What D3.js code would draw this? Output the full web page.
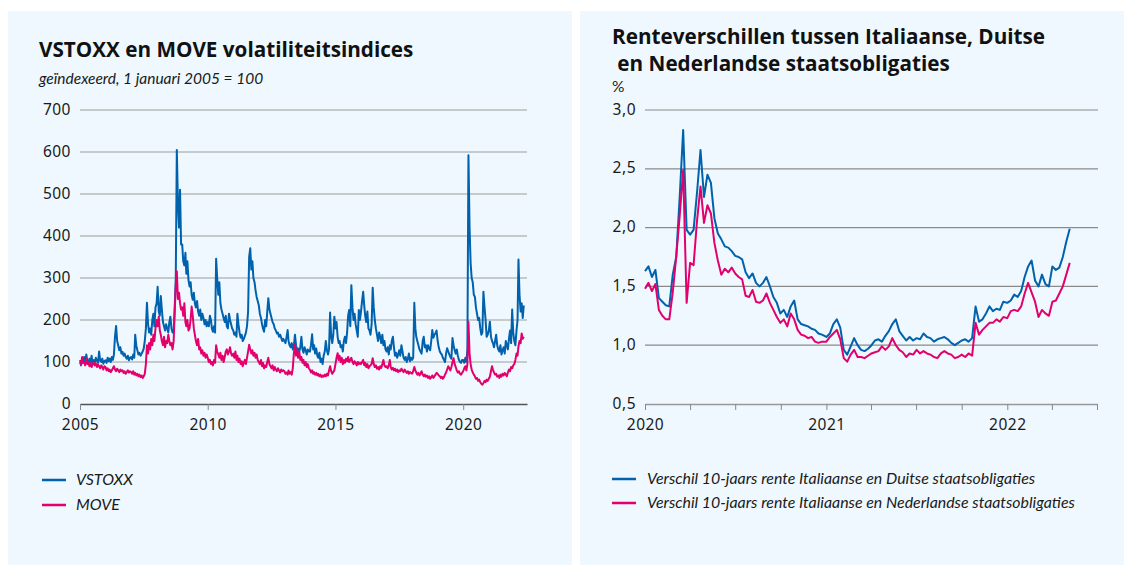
<!DOCTYPE html>
<html>
<head>
<meta charset="utf-8">
<script src="https://cdn.jsdelivr.net/npm/d3@7"></script>
<style>
  body { margin: 0; background: #fff; }
  text { font-family: Lato, "Open Sans", sans-serif; fill: #1a1a1a; }
  .title { font-family: "Open Sans", sans-serif; font-weight: 700; font-size: 20.7px; fill: #111; }
  .sub { font-style: italic; font-size: 15.5px; }
  .tick text, .ylab { font-family: "Noto Sans", sans-serif; font-size: 15.5px; letter-spacing: 0.5px; }
  .legend text { font-style: italic; font-size: 15.9px; }
</style>
</head>
<body>
<svg id="chart" width="1132" height="569"></svg>
<script>
/* DATA */
// left chart: semi-monthly readings (1st and 16th of each month), one row per year from 2005
const vstoxx = [
  100, 92, 105, 98, 112, 95, 118, 102, 96, 108, 100, 115, 94, 105, 99, 110, 103, 98, 125, 104, 100, 108, 96, 102,
  104, 98, 110, 102, 108, 100, 112, 105, 118, 160, 186, 150, 140, 128, 135, 120, 124, 115, 120, 112, 108, 115, 104, 110,
  112, 106, 118, 110, 165, 140, 128, 118, 122, 115, 120, 125, 132, 150, 180, 241, 190, 170, 180, 165, 200, 215, 185, 230,
  240, 279, 220, 210, 257, 225, 195, 185, 175, 190, 180, 170, 195, 208, 180, 170, 175, 230, 300, 605, 480, 420, 510, 380,
  380, 340, 330, 360, 310, 340, 295, 280, 290, 260, 248, 265, 240, 230, 245, 220, 210, 225, 200, 215, 205, 190, 200, 185,
  195, 185, 210, 200, 180, 172, 185, 170, 346, 300, 260, 290, 240, 225, 215, 205, 195, 210, 185, 180, 215, 200, 190, 180,
  175, 165, 170, 160, 215, 190, 170, 158, 165, 150, 155, 162, 170, 185, 220, 350, 371, 320, 340, 300, 290, 270, 255, 245,
  235, 215, 205, 190, 180, 172, 200, 185, 220, 252, 225, 215, 205, 195, 190, 180, 175, 168, 170, 160, 165, 158, 150, 155,
  150, 145, 160, 176, 150, 140, 135, 145, 130, 138, 165, 140, 128, 132, 125, 135, 160, 130, 122, 135, 128, 118, 130, 125,
  125, 140, 166, 130, 140, 120, 132, 115, 110, 122, 100, 108, 95, 115, 125, 150, 128, 118, 130, 218, 160, 145, 165, 208,
  180, 195, 160, 145, 150, 135, 140, 125, 150, 160, 145, 170, 210, 224, 185, 283, 230, 200, 215, 190, 175, 160, 224, 200,
  220, 245, 267, 235, 210, 195, 220, 180, 175, 165, 190, 277, 230, 200, 180, 165, 150, 170, 160, 145, 165, 140, 150, 130,
  125, 135, 118, 140, 130, 150, 160, 135, 115, 122, 110, 118, 128, 115, 140, 125, 110, 105, 112, 100, 108, 120, 102, 110,
  105, 110, 241, 180, 160, 150, 140, 130, 125, 120, 150, 160, 135, 140, 125, 140, 132, 128, 150, 176, 158, 165, 168, 175,
  150, 135, 125, 120, 118, 110, 105, 100, 120, 133, 125, 118, 112, 108, 157, 140, 128, 120, 130, 115, 105, 100, 98, 105,
  105, 98, 110, 100, 130, 592, 420, 335, 300, 290, 260, 255, 230, 215, 200, 205, 180, 165, 170, 267, 230, 200, 160, 165,
  175, 196, 160, 150, 145, 135, 150, 165, 140, 130, 125, 140, 118, 128, 135, 120, 150, 140, 130, 155, 175, 145, 225, 170,
  150, 140, 175, 200, 344, 260, 220, 240, 205, 235
];
const move = [
  105, 95, 112, 98, 100, 92, 108, 95, 100, 90, 97, 88, 95, 100, 92, 96, 88, 94, 90, 85, 92, 88, 82, 90,
  88, 80, 85, 78, 82, 76, 80, 85, 90, 82, 78, 84, 80, 76, 82, 78, 80, 74, 78, 72, 76, 80, 75, 78,
  76, 72, 78, 70, 74, 68, 72, 66, 70, 64, 68, 62, 66, 72, 95, 140, 120, 145, 130, 155, 140, 165, 150, 180,
  200, 185, 208, 175, 165, 150, 140, 160, 135, 150, 145, 165, 150, 140, 145, 130, 150, 220, 280, 316, 250, 265, 240, 225,
  230, 210, 240, 195, 185, 200, 175, 180, 200, 232, 210, 180, 165, 150, 140, 155, 130, 135, 120, 128, 115, 122, 110, 118,
  110, 100, 105, 95, 100, 92, 105, 98, 140, 125, 118, 110, 122, 105, 115, 100, 112, 125, 130, 118, 125, 135, 120, 115,
  120, 110, 125, 105, 115, 100, 108, 95, 102, 90, 98, 105, 95, 110, 125, 141, 130, 120, 128, 115, 122, 110, 118, 105,
  100, 95, 105, 90, 98, 85, 92, 88, 100, 110, 95, 90, 85, 92, 80, 88, 82, 78, 85, 80, 75, 82, 78, 80,
  78, 72, 75, 70, 80, 72, 76, 70, 85, 120, 141, 115, 130, 110, 125, 105, 112, 98, 105, 92, 100, 88, 95, 85,
  82, 75, 80, 72, 76, 70, 74, 68, 72, 66, 70, 64, 68, 65, 70, 66, 72, 68, 80, 90, 78, 72, 76, 80,
  95, 110, 121, 105, 115, 100, 110, 95, 105, 98, 108, 102, 112, 100, 105, 110, 100, 95, 102, 98, 92, 100, 95, 98,
  95, 100, 105, 92, 98, 88, 95, 85, 90, 92, 96, 109, 95, 88, 92, 84, 88, 82, 90, 86, 95, 105, 92, 88,
  90, 85, 92, 105, 88, 82, 86, 80, 84, 78, 82, 76, 80, 78, 84, 80, 76, 82, 78, 74, 78, 72, 76, 74,
  72, 78, 88, 80, 75, 70, 74, 68, 72, 78, 70, 66, 70, 65, 68, 62, 66, 60, 64, 68, 62, 66, 70, 74,
  72, 68, 66, 62, 65, 60, 64, 70, 75, 82, 90, 85, 80, 88, 100, 109, 95, 88, 80, 75, 78, 72, 70, 74,
  78, 85, 90, 80, 95, 196, 120, 95, 82, 75, 70, 66, 60, 62, 55, 58, 52, 48, 46, 50, 55, 52, 58, 55,
  60, 65, 78, 90, 82, 75, 70, 72, 65, 68, 62, 70, 65, 72, 68, 74, 70, 66, 75, 82, 78, 88, 85, 92,
  95, 105, 120, 115, 137, 150, 145, 168, 155, 160
];
const leftTicksY = [0, 100, 200, 300, 400, 500, 600, 700];
const leftTickYears = [2005, 2010, 2015, 2020];

// right chart: weekly readings, % points
const spreadDE2020 = [1.63, 1.67, 1.58, 1.64, 1.40, 1.37, 1.34, 1.33, 1.60, 1.75, 2.26, 2.83, 1.98, 1.94, 1.98, 2.30, 2.66, 2.26, 2.45, 2.38,
  2.08, 1.95, 1.90, 1.84, 1.83, 1.80, 1.76, 1.75, 1.73, 1.62, 1.57, 1.61, 1.53, 1.50, 1.53, 1.58, 1.50, 1.41, 1.36, 1.27,
  1.30, 1.24, 1.33, 1.38, 1.22, 1.18, 1.17, 1.16, 1.14, 1.13, 1.10, 1.09];
const spreadDE2021 = [1.07, 1.10, 1.18, 1.22, 1.15, 0.96, 0.92, 0.99, 1.06, 1.00, 0.96, 0.95, 0.97, 1.00, 1.04, 1.05, 1.03, 1.08, 1.12, 1.18,
  1.22, 1.12, 1.08, 1.04, 1.07, 1.04, 1.06, 1.05, 1.10, 1.07, 1.06, 1.03, 1.05, 1.06, 1.07, 1.05, 1.02, 1.00, 1.02, 1.04,
  1.05, 1.03, 1.06, 1.33, 1.20, 1.22, 1.27, 1.33, 1.29, 1.31, 1.30, 1.37];
const spreadDE2022 = [1.36, 1.38, 1.43, 1.41, 1.46, 1.58, 1.67, 1.72, 1.55, 1.50, 1.60, 1.52, 1.50, 1.67, 1.64, 1.66, 1.75, 1.88, 1.99];
const spreadNL2020 = [1.48, 1.53, 1.46, 1.52, 1.30, 1.25, 1.22, 1.22, 1.45, 1.75, 2.10, 2.49, 1.36, 1.70, 1.68, 2.06, 2.35, 2.04, 2.19, 2.12,
  1.87, 1.72, 1.60, 1.65, 1.62, 1.66, 1.61, 1.58, 1.56, 1.42, 1.41, 1.47, 1.37, 1.36, 1.38, 1.44, 1.36, 1.30, 1.24, 1.19,
  1.22, 1.16, 1.27, 1.22, 1.13, 1.09, 1.08, 1.06, 1.07, 1.03, 1.02, 1.03];
const spreadNL2021 = [1.03, 1.07, 1.10, 1.13, 1.05, 0.89, 0.86, 0.92, 0.96, 0.90, 0.90, 0.89, 0.91, 0.93, 0.94, 0.95, 0.99, 0.96, 0.99, 1.06,
  1.00, 0.96, 0.94, 0.90, 0.93, 0.92, 0.96, 0.93, 0.95, 0.93, 0.92, 0.90, 0.89, 0.93, 0.95, 0.93, 0.92, 0.89, 0.90, 0.92,
  0.90, 0.93, 0.91, 1.19, 1.09, 1.13, 1.16, 1.19, 1.19, 1.22, 1.20, 1.24];
const spreadNL2022 = [1.23, 1.29, 1.30, 1.29, 1.33, 1.44, 1.53, 1.45, 1.37, 1.24, 1.30, 1.27, 1.25, 1.37, 1.38, 1.44, 1.50, 1.60, 1.70];
const rightTicksY = [0.5, 1.0, 1.5, 2.0, 2.5, 3.0];

const seriesNames = ["VSTOXX", "MOVE"];
const spreadNames = [
  "Verschil 10-jaars rente Italiaanse en Duitse staatsobligaties",
  "Verschil 10-jaars rente Italiaanse en Nederlandse staatsobligaties"
];

/* CONSTANTS */
const blue = "#0061ac",
  pink = "#e3006d",
  panelFill = "#eef8fe",
  gridColor = "#9c9c9c",
  axisColor = "#555";

const semiMonth = i => new Date(2005 + Math.floor(i / 24), Math.floor((i % 24) / 2), i % 2 ? 16 : 1);
const weekly = (year, arr) => arr.map((v, i) => ({ date: d3.timeDay.offset(new Date(year, 0, 1), 7 * i), value: v }));
const commaFmt = v => d3.format(".1f")(v).replace(".", ",");

const svg = d3.select("#chart");

// panels
svg.append("rect").attr("x", 8).attr("y", 11).attr("width", 564).attr("height", 554).attr("fill", panelFill);
svg.append("rect").attr("x", 580).attr("y", 11).attr("width", 544).attr("height", 554).attr("fill", panelFill);

/* LEFT CHART */
const xL = d3.scaleTime()
  .domain([new Date(2005, 0, 1), new Date(2022, 6, 1)])
  .range([80, 527]);
const yL = d3.scaleLinear().domain([0, 700]).range([404, 110]);

const left = svg.append("g");

left.append("text").attr("class", "title").attr("x", 39).attr("y", 57)
  .text("VSTOXX en MOVE volatiliteitsindices");
left.append("text").attr("class", "sub").attr("x", 39).attr("y", 84)
  .text("geïndexeerd, 1 januari 2005 = 100");

left.selectAll(".grid")
  .data(leftTicksY.filter(d => d > 0))
  .join("line")
  .attr("class", "grid")
  .attr("x1", 80).attr("x2", 527)
  .attr("y1", d => yL(d)).attr("y2", d => yL(d))
  .attr("stroke", gridColor).attr("stroke-width", 1.2);

left.selectAll(".ylab")
  .data(leftTicksY)
  .join("text")
  .attr("class", "ylab")
  .attr("x", 71).attr("y", d => yL(d) + 4.5)
  .attr("text-anchor", "end")
  .text(d => d);

const xAxisL = d3.axisBottom(xL)
  .tickValues(leftTickYears.map(y => new Date(y, 0, 1)))
  .tickFormat(d3.timeFormat("%Y"))
  .tickSize(6)
  .tickSizeOuter(0);

left.append("g")
  .attr("transform", `translate(0, ${yL(0)})`)
  .call(xAxisL)
  .call(g => g.select(".domain").attr("stroke", axisColor).attr("stroke-width", 1.3))
  .call(g => g.selectAll(".tick line").attr("stroke", "#888"))
  .call(g => g.selectAll(".tick text").attr("y", 15).attr("font-family", null).attr("font-size", null));

const lineL = d3.line()
  .x((d, i) => xL(semiMonth(i)))
  .y(d => yL(d));

left.append("path").datum(vstoxx)
  .attr("fill", "none").attr("stroke", blue).attr("stroke-width", 2)
  .attr("stroke-linejoin", "round")
  .attr("d", lineL);
left.append("path").datum(move)
  .attr("fill", "none").attr("stroke", pink).attr("stroke-width", 2)
  .attr("stroke-linejoin", "round")
  .attr("d", lineL);

const legL = left.append("g").attr("class", "legend");
legL.selectAll("line")
  .data(seriesNames)
  .join("line")
  .attr("x1", 42).attr("x2", 66)
  .attr("y1", (d, i) => 480 + i * 25).attr("y2", (d, i) => 480 + i * 25)
  .attr("stroke", (d, i) => i ? pink : blue).attr("stroke-width", 2.5);
legL.selectAll("text")
  .data(seriesNames)
  .join("text")
  .attr("x", 76).attr("y", (d, i) => 485 + i * 25)
  .text(d => d);

/* RIGHT CHART */
const xR = d3.scaleTime()
  .domain([new Date(2020, 0, 1), new Date(2022, 6, 1)])
  .range([645, 1097]);
const yR = d3.scaleLinear().domain([0.5, 3.0]).range([404, 110]);

const right = svg.append("g");

right.append("text").attr("class", "title").attr("x", 612).attr("y", 44)
  .text("Renteverschillen tussen Italiaanse, Duitse");
right.append("text").attr("class", "title").attr("x", 612).attr("y", 71)
  .attr("xml:space", "preserve")
  .text(" en Nederlandse staatsobligaties");
right.append("text").attr("class", "sub").attr("x", 612).attr("y", 92)
  .style("font-style", "normal")
  .text("%");

right.selectAll(".grid")
  .data(rightTicksY.filter(d => d > 0.5))
  .join("line")
  .attr("class", "grid")
  .attr("x1", 645).attr("x2", 1098)
  .attr("y1", d => yR(d)).attr("y2", d => yR(d))
  .attr("stroke", "#8a8a8a").attr("stroke-width", 1.2);

right.selectAll(".ylab")
  .data(rightTicksY)
  .join("text")
  .attr("class", "ylab")
  .attr("x", 636).attr("y", d => yR(d) + 4.5)
  .attr("text-anchor", "end")
  .text(commaFmt);

const xAxisR = d3.axisBottom(xR)
  .ticks(d3.timeMonth.every(3))
  .tickFormat(d => d.getMonth() === 0 ? d3.timeFormat("%Y")(d) : "")
  .tickSize(6)
  .tickSizeOuter(0);

right.append("g")
  .attr("transform", `translate(0, ${yR(0.5)})`)
  .call(xAxisR)
  .call(g => g.select(".domain").attr("stroke", "#999").attr("stroke-width", 1.3))
  .call(g => g.selectAll(".tick line").attr("stroke", "#888"))
  .call(g => g.selectAll(".tick text").attr("y", 15).attr("font-family", null).attr("font-size", null));

const lineR = d3.line()
  .x(d => xR(d.date))
  .y(d => yR(d.value));

const spreadDE = [...weekly(2020, spreadDE2020), ...weekly(2021, spreadDE2021), ...weekly(2022, spreadDE2022)];
const spreadNL = [...weekly(2020, spreadNL2020), ...weekly(2021, spreadNL2021), ...weekly(2022, spreadNL2022)];

right.append("path").datum(spreadDE)
  .attr("fill", "none").attr("stroke", blue).attr("stroke-width", 2)
  .attr("stroke-linejoin", "round")
  .attr("d", lineR);
right.append("path").datum(spreadNL)
  .attr("fill", "none").attr("stroke", pink).attr("stroke-width", 2)
  .attr("stroke-linejoin", "round")
  .attr("d", lineR);

const legR = right.append("g").attr("class", "legend");
legR.selectAll("line")
  .data(spreadNames)
  .join("line")
  .attr("x1", 612).attr("x2", 636)
  .attr("y1", (d, i) => 479 + i * 24).attr("y2", (d, i) => 479 + i * 24)
  .attr("stroke", (d, i) => i ? pink : blue).attr("stroke-width", 2.5);
legR.selectAll("text")
  .data(spreadNames)
  .join("text")
  .attr("x", 647).attr("y", (d, i) => 484 + i * 24)
  .text(d => d);
</script>
</body>
</html>
